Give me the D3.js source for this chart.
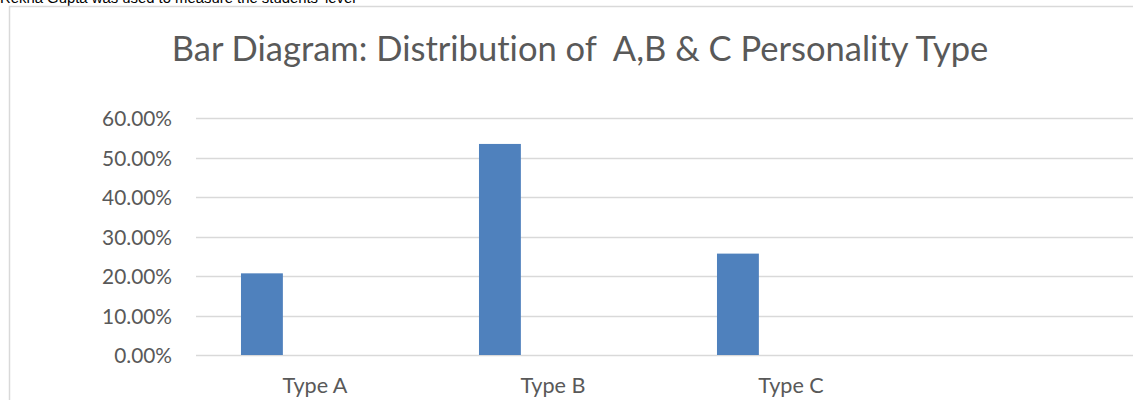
<!DOCTYPE html>
<html>
<head>
<meta charset="utf-8">
<script src="https://cdn.jsdelivr.net/npm/d3@7"></script>
<style>
  html, body { margin: 0; padding: 0; background: #fff; overflow: hidden; }
  svg { display: block; }
  text { font-variant-ligatures: none; white-space: pre; }
</style>
</head>
<body>
<svg id="chart" width="1133" height="400"></svg>
<script>
// ---- data ----
const categories = ["Type A", "Type B", "Type C", ""];
const values = [0.207, 0.535, 0.257, null];
const yTicks = [0, 0.1, 0.2, 0.3, 0.4, 0.5, 0.6];
const title = "Bar Diagram: Distribution of  A,B & C Personality Type";
const bodyText = "Rekha Gupta was used to measure the students' level";

const svg = d3.select("#chart");
const textColor = "#595959";
const fontFam = "Lato, 'Open Sans', sans-serif";

function fitWidth(sel, target) {
  const node = sel.node();
  const w = node.getComputedTextLength();
  const fs = parseFloat(sel.attr("font-size"));
  if (w > 0) sel.attr("font-size", fs * target / w);
}

// document text above the chart (cut off at the top, as in the reference)
const bt = svg.append("text")
  .attr("x", 0).attr("y", 3)
  .attr("font-family", "'Liberation Sans', Arial, sans-serif")
  .attr("font-size", 20)
  .attr("fill", "#000")
  .text(bodyText);
fitWidth(bt, 356);

// chart frame
svg.append("rect")
  .attr("x", 9.5).attr("y", 6.5)
  .attr("width", 1200).attr("height", 500)
  .attr("fill", "#fff")
  .attr("stroke", "#d9d9d9")
  .attr("stroke-width", 1.5);

// scales
const x = d3.scaleBand().domain(categories).range([196, 1148]).padding(0);
const y = d3.scaleLinear().domain([0, 0.6]).range([355, 118.3]);

// gridlines
svg.append("g")
  .selectAll("line")
  .data(yTicks)
  .join("line")
  .attr("x1", 196).attr("x2", 1148)
  .attr("y1", d => Math.round(y(d)) + 0.5)
  .attr("y2", d => Math.round(y(d)) + 0.5)
  .attr("stroke", "#d9d9d9")
  .attr("stroke-width", 1.3);

// y tick labels
const fmt = d => (d * 100).toFixed(2) + "%";
const yl = svg.append("g")
  .selectAll("text")
  .data(yTicks)
  .join("text")
  .attr("x", 172)
  .attr("y", d => y(d) + 8)
  .attr("text-anchor", "end")
  .attr("font-family", fontFam)
  .attr("font-size", 20)
  .attr("fill", textColor)
  .text(fmt);
{
  const w = yl.filter(d => d === 0.6).node().getComputedTextLength();
  yl.attr("font-size", 20 * 70 / w);
}

// bars
const bw = x.bandwidth();
svg.append("g")
  .selectAll("rect")
  .data(categories.map((c, i) => ({ c, v: values[i] })).filter(d => d.v != null))
  .join("rect")
  .attr("x", d => x(d.c) + bw * 0.189)
  .attr("width", bw * 0.176)
  .attr("y", d => y(d.v))
  .attr("height", d => y(0) - y(d.v))
  .attr("fill", "#4f81bd");

// category labels
const xl = svg.append("g")
  .selectAll("text")
  .data(categories.filter(c => c !== ""))
  .join("text")
  .attr("x", d => x(d) + bw / 2)
  .attr("y", 393)
  .attr("text-anchor", "middle")
  .attr("font-family", fontFam)
  .attr("font-size", 20)
  .attr("fill", textColor)
  .text(d => d);
{
  const w = xl.filter(d => d === "Type A").node().getComputedTextLength();
  xl.attr("font-size", 20 * 65 / w);
}

// title
const t = svg.append("text")
  .attr("x", 580).attr("y", 61)
  .attr("text-anchor", "middle")
  .attr("font-family", fontFam)
  .attr("font-size", 32)
  .attr("fill", textColor)
  .text(title);
fitWidth(t, 817);
</script>
</body>
</html>
